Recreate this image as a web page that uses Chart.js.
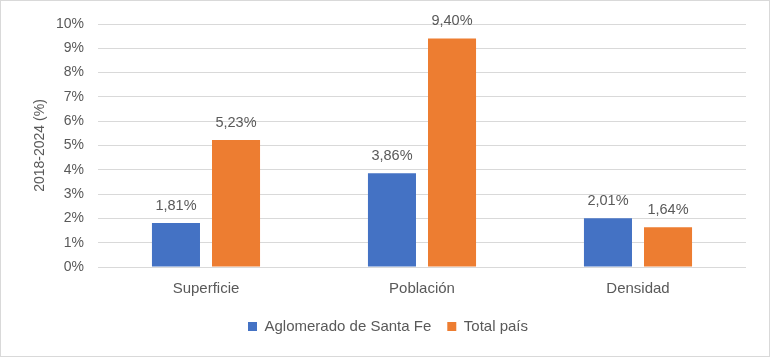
<!DOCTYPE html>
<html><head><meta charset="utf-8">
<script src="https://cdn.jsdelivr.net/npm/chart.js@4/dist/chart.umd.min.js"></script>
<style>
html,body{margin:0;padding:0;background:#fff;}
#wrap{position:relative;width:770px;height:357px;box-sizing:border-box;border:1px solid #d9d9d9;}
canvas{display:block;}
</style></head>
<body><div id="wrap"><canvas id="c" width="768" height="355"></canvas></div>
<script>
const categories = ["Superficie", "Población", "Densidad"];
const seriesNames = ["Aglomerado de Santa Fe", "Total país"];
const santaFe = [1.81, 3.86, 2.01];
const totalPais = [5.23, 9.40, 1.64];
const yTicks = [0,1,2,3,4,5,6,7,8,9,10];
const yTitle = "2018-2024 (%)";

const FONT = "'Liberation Sans', Arial, sans-serif";
const TXT = "#595959";

const labelPlugin = {
  id: 'valLabels',
  afterDatasetsDraw(chart) {
    const ctx = chart.ctx;
    ctx.save();
    ctx.font = "14.5px " + FONT;
    ctx.fillStyle = TXT;
    ctx.textAlign = "center";
    ctx.textBaseline = "bottom";
    chart.data.datasets.forEach((ds, i) => {
      chart.getDatasetMeta(i).data.forEach((bar, j) => {
        const v = ds.data[j].toFixed(2).replace('.', ',') + '%';
        ctx.fillText(v, bar.x, bar.y - 10);
      });
    });
    ctx.restore();
  }
};

new Chart(document.getElementById('c'), {
  type: 'bar',
  data: {
    labels: categories,
    datasets: [
      { label: seriesNames[0], data: santaFe, backgroundColor: '#4472C4', categoryPercentage: 0.556, barPercentage: 0.8 },
      { label: seriesNames[1], data: totalPais, backgroundColor: '#ED7D31', categoryPercentage: 0.556, barPercentage: 0.8 }
    ]
  },
  options: {
    responsive: false,
    animation: false,
    devicePixelRatio: 1,
    layout: { padding: { left: 29, right: 23, top: 23, bottom: 12 } },
    plugins: {
      legend: {
        position: 'bottom',
        labels: { boxWidth: 9, boxHeight: 9, color: TXT, font: { size: 15, family: FONT }, padding: 16 }
      },
      tooltip: { enabled: false }
    },
    scales: {
      x: {
        grid: { display: false },
        border: { display: false },
        ticks: { color: TXT, font: { size: 15, family: FONT }, padding: 5 }
      },
      y: {
        min: 0, max: 10,
        afterBuildTicks: s => { s.ticks = yTicks.map(v => ({ value: v })); },
        afterFit: s => { s.width = 68; },
        grid: { color: '#d9d9d9', lineWidth: 1, drawTicks: true, tickLength: 8, tickColor: 'rgba(0,0,0,0)' },
        border: { display: false },
        ticks: { color: TXT, font: { size: 14, family: FONT }, padding: 6, callback: v => v + '%' },
        title: { display: true, text: yTitle, color: TXT, font: { size: 14, family: FONT }, padding: 2 }
      }
    }
  },
  plugins: [labelPlugin]
});
</script></body></html>
